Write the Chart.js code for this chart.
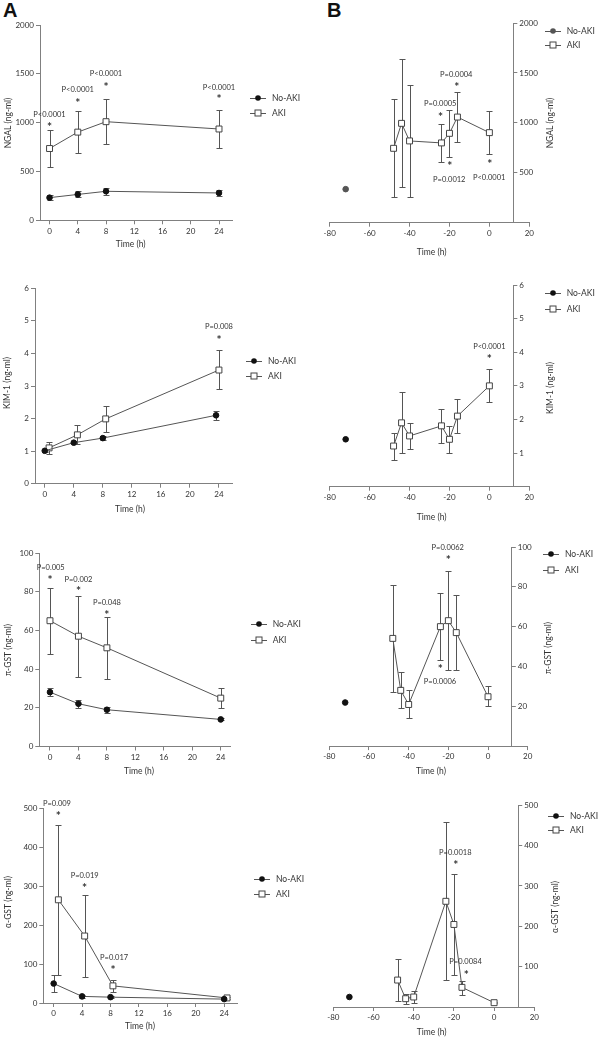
<!DOCTYPE html>
<html>
<head>
<meta charset="utf-8">
<script src="https://cdn.jsdelivr.net/npm/chart.js@4.4.1/dist/chart.umd.min.js"></script>
<style>
  body { margin: 0; background: #fff; width: 600px; height: 1039px; position: relative; overflow: hidden; }
  canvas { position: absolute; }
  .tag { position: absolute; font: bold 20px 'Liberation Sans', Arial, sans-serif; line-height: 20px; color: #111; }
  .leg { position: absolute; height: 12px; display: flex; align-items: center; font: 8.5px Lato, sans-serif; color: #333; white-space: nowrap; }
  .leg span { margin-left: 4px; }
</style>
</head>
<body>
<div class="tag" style="left:3px;top:0px">A</div>
<div class="tag" style="left:327px;top:0px">B</div>
<script>
// time points
const hoursA = [0, 4, 8, 24];
const hoursB = [-48, -44, -40, -24, -20, -16, 0];
const baseB = [-72];
const ticksA = [0, 4, 8, 12, 16, 20, 24];
const ticksB = [-80, -60, -40, -20, 0, 20];

// NGAL (A)
const ngalA_no = [232, 265, 297, 280];
const ngalA_noLo = [207, 235, 259, 245];
const ngalA_noHi = [257, 295, 335, 315];
const ngalA_aki = [735, 903, 1010, 935];
const ngalA_akiLo = [545, 686, 785, 740];
const ngalA_akiHi = [926, 1121, 1244, 1132];
const ngalA_notes = [
  { x: 0, y: 985, t: '*' }, { x: 0, y: 1087, t: 'P<0.0001' },
  { x: 4, y: 1234, t: '*' }, { x: 4, y: 1340, t: 'P<0.0001' },
  { x: 8, y: 1398, t: '*' }, { x: 8, y: 1508, t: 'P<0.0001' },
  { x: 24, y: 1268, t: '*' }, { x: 24, y: 1368, t: 'P<0.0001' }
];

// KIM-1 (A)
const kimA_noX = [0, 4, 8, 23.6];
const kimA_no = [1.01, 1.26, 1.40, 2.10];
const kimA_noLo = [0.96, 1.21, 1.34, 1.96];
const kimA_noHi = [1.06, 1.31, 1.46, 2.24];
const kimA_akiX = [0.6, 4.5, 8.4, 24];
const kimA_aki = [1.10, 1.50, 1.99, 3.49];
const kimA_akiLo = [0.91, 1.21, 1.60, 2.90];
const kimA_akiHi = [1.29, 1.79, 2.40, 4.10];
const kimA_notes = [{ x: 24, y: 4.5, t: '*' }, { x: 24, y: 4.84, t: 'P=0.008' }];

// pi-GST (A)
const piA_no = [28.1, 22.1, 19.0, 14.0];
const piA_noLo = [25.9, 20.1, 17.5, 13.5];
const piA_noHi = [30.3, 24.1, 20.5, 14.5];
const piA_aki = [65, 57, 51, 25];
const piA_akiLo = [48, 36, 35, 20];
const piA_akiHi = [82, 78, 67, 30];
const piA_notes = [
  { x: 0, y: 87.8, t: '*' }, { x: 0.1, y: 93, t: 'P=0.005' },
  { x: 4, y: 81.8, t: '*' }, { x: 4, y: 86.8, t: 'P=0.002' },
  { x: 8, y: 69.7, t: '*' }, { x: 8, y: 74.5, t: 'P=0.048' }
];

// alpha-GST (A)
const alA_no = [50, 17, 15, 10];
const alA_noLo = [27, 14, 12, 8];
const alA_noHi = [73, 20, 18, 12];
const alA_akiX = [0.66, 4.36, 8.34, 24.4];
const alA_aki = [265, 172, 44, 13];
const alA_akiLo = [72, 67, 28, 10];
const alA_akiHi = [458, 277, 60, 16];
const alA_notes = [
  { x: 0.66, y: 487, t: '*' }, { x: 0.46, y: 514, t: 'P=0.009' },
  { x: 4.36, y: 302, t: '*' }, { x: 4.36, y: 329, t: 'P=0.019' },
  { x: 8.34, y: 93, t: '*' }, { x: 8.5, y: 119, t: 'P=0.017' }
];

// NGAL (B)
const ngalB_no = [336];
const ngalB_aki = [745, 995, 819, 799, 895, 1058, 902];
const ngalB_akiLo = [255, 353, 259, 609, 662, 810, 684];
const ngalB_akiHi = [1235, 1637, 1379, 989, 1128, 1306, 1120];
const ngalB_notes = [
  { x: -24.6, y: 1195, t: 'P=0.0005' }, { x: -24.5, y: 1088, t: '*' },
  { x: -16.6, y: 1485, t: 'P=0.0004' }, { x: -16.3, y: 1385, t: '*' },
  { x: -19.8, y: 597, t: '*' }, { x: -20.1, y: 440, t: 'P=0.0012' },
  { x: 0.2, y: 613, t: '*' }, { x: -0.1, y: 460, t: 'P<0.0001' }
];

// KIM-1 (B)
const kimB_no = [1.41];
const kimB_aki = [1.21, 1.90, 1.51, 1.81, 1.41, 2.10, 3.0];
const kimB_akiLo = [0.80, 1.00, 1.11, 1.31, 1.00, 1.61, 2.52];
const kimB_akiHi = [1.61, 2.82, 1.90, 2.30, 1.81, 2.60, 3.50];
const kimB_notes = [{ x: 0, y: 3.9, t: '*' }, { x: 0, y: 4.2, t: 'P<0.0001' }];

// pi-GST (B)
const piB_no = [21.9];
const piB_aki = [54.1, 28, 20.9, 60, 63, 57, 24.8];
const piB_akiLo = [27, 19, 14, 43, 38, 38, 20];
const piB_akiHi = [81, 37, 28, 77, 88, 76, 30];
const piB_notes = [
  { x: -20.3, y: 99.8, t: 'P=0.0062' }, { x: -20, y: 95, t: '*' },
  { x: -24, y: 40.4, t: '*' }, { x: -24.2, y: 32.7, t: 'P=0.0006' }
];

// alpha-GST (B)
const alB_no = [24.8];
const alB_aki = [66.8, 20.6, 24.8, 262, 204.6, 48.7, 10.7];
const alB_akiLo = [14, 6.6, 10, 66, 79, 30.5, 9];
const alB_akiHi = [119, 33, 39.6, 459, 330, 65, 12];
const alB_notes = [
  { x: -19.3, y: 385, t: 'P=0.0018' }, { x: -19.1, y: 360, t: '*' },
  { x: -14.2, y: 113, t: 'P=0.0084' }, { x: -13.8, y: 88, t: '*' }
];

const INK = '#333';
const AXIS = '#808080';
const FONT = 'Lato, "Open Sans", sans-serif';

function series(label, xs, ys, lo, hi, aki, dot) {
  return {
    label: label,
    data: xs.map((x, i) => ({ x: x, y: ys[i] })),
    lo: lo, hi: hi,
    showLine: true,
    borderColor: '#555',
    borderWidth: 1,
    pointStyle: aki ? 'rect' : 'circle',
    pointRadius: aki ? 4.2 : 2.8,
    pointBackgroundColor: aki ? '#fff' : dot,
    pointBorderColor: aki ? '#444' : dot,
    pointBorderWidth: 1
  };
}

function panelPlugin(p) {
  return {
    id: 'panel',
    afterLayout(chart) {
      if (p.side !== 'right') return;
      // put the right-hand y axis at x = p.yAt instead of the chart edge
      const y = chart.scales.y;
      const px = chart.scales.x.getPixelForValue(p.yAt);
      const w = y.right - y.left;
      y.left = px;
      y.right = px + w;
    },
    beforeDatasetsDraw(chart) {
      const { ctx, scales: { x, y } } = chart;
      ctx.save();
      ctx.strokeStyle = '#555';
      ctx.lineWidth = 1;
      chart.data.datasets.forEach(ds => {
        if (!ds.lo) return;
        ds.data.forEach((pt, i) => {
          const px = Math.round(x.getPixelForValue(pt.x)) + 0.5;
          const top = Math.round(y.getPixelForValue(ds.hi[i])) + 0.5;
          const bot = Math.round(y.getPixelForValue(ds.lo[i])) + 0.5;
          ctx.beginPath();
          ctx.moveTo(px, top); ctx.lineTo(px, bot);
          ctx.moveTo(px - 3, top); ctx.lineTo(px + 3, top);
          ctx.moveTo(px - 3, bot); ctx.lineTo(px + 3, bot);
          ctx.stroke();
        });
      });
      ctx.restore();
    },
    afterDraw(chart) {
      const { ctx, scales: { x, y } } = chart;
      ctx.save();
      ctx.fillStyle = INK;
      ctx.textAlign = 'center';
      ctx.textBaseline = 'alphabetic';
      p.notes.forEach(n => {
        ctx.font = n.t === '*' ? 'bold 12px ' + FONT : '7.5px ' + FONT;
        const m = ctx.measureText(n.t);
        const px = x.getPixelForValue(n.x);
        const py = y.getPixelForValue(n.y);
        ctx.fillText(n.t, px, py + (m.actualBoundingBoxAscent - m.actualBoundingBoxDescent) / 2);
      });
      ctx.font = '8.5px ' + FONT;
      ctx.textBaseline = 'middle';
      ctx.fillText('Time (h)', p.xt[0], p.xt[1]);
      ctx.translate(p.yt[0], p.yt[1]);
      ctx.rotate(-Math.PI / 2);
      ctx.fillText(p.yTitle, 0, 0);
      ctx.restore();
    }
  };
}

function makePanel(p) {
  const cv = document.createElement('canvas');
  cv.width = p.w; cv.height = p.h;
  cv.style.left = p.left + 'px';
  cv.style.top = p.top + 'px';
  document.body.appendChild(cv);

  const right = p.side === 'right';
  const yW = right ? 40 : p.area.l;
  const pad = right
    ? { left: p.area.l, right: p.w - p.area.r - yW, top: p.area.t, bottom: 0 }
    : { left: 0, right: p.w - p.area.r, top: p.area.t, bottom: 0 };
  const xH = p.h - p.area.b;

  new Chart(cv, {
    type: 'scatter',
    data: { datasets: p.datasets },
    options: {
      responsive: false,
      animation: false,
      devicePixelRatio: 1,
      layout: { padding: pad },
      plugins: { legend: { display: false }, tooltip: { enabled: false } },
      scales: {
        x: {
          type: 'linear',
          min: p.xRange[0], max: p.xRange[1],
          afterBuildTicks: s => { s.ticks = p.xTicks.map(v => ({ value: v })); },
          afterFit: s => { s.height = xH; },
          grid: { drawOnChartArea: false, drawTicks: true, tickLength: 4, color: AXIS },
          border: { display: true, color: AXIS, width: 1 },
          ticks: { color: INK, padding: 2, maxRotation: 0, font: { family: FONT, size: 8 }, callback: v => String(v) }
        },
        y: {
          type: 'linear',
          position: right ? 'right' : 'left',
          min: p.yRange[0], max: p.yRange[1],
          afterBuildTicks: s => { s.ticks = p.yTicks.map(v => ({ value: v })); },
          afterFit: s => { s.width = yW; },
          grid: { drawOnChartArea: false, drawTicks: true, tickLength: 4, color: AXIS },
          border: { display: true, color: AXIS, width: 1 },
          ticks: { color: INK, padding: 2, font: { family: FONT, size: 8 }, callback: v => String(v) }
        }
      }
    },
    plugins: [panelPlugin(p)]
  });
}

function legend(x, y1, y2, dot) {
  const rows = [
    { t: 'No-AKI', y: y1, m: '<circle cx="10" cy="5" r="2.8" fill="' + dot + '"/>' },
    { t: 'AKI', y: y2, m: '<rect x="7" y="2" width="6" height="6" fill="#fff" stroke="#444" stroke-width="1"/>' }
  ];
  rows.forEach(r => {
    const d = document.createElement('div');
    d.className = 'leg';
    d.style.left = (x - 24) + 'px';
    d.style.top = (r.y - 6) + 'px';
    d.innerHTML = '<svg width="20" height="10"><line x1="2" y1="5.5" x2="18" y2="5.5" stroke="#555" stroke-width="1"/>' +
      r.m + '</svg><span>' + r.t + '</span>';
    document.body.appendChild(d);
  });
}

const pA = { left: 0, w: 245, side: 'left', xTicks: ticksA };
const pB = { left: 300, w: 300, side: 'right', xTicks: ticksB, xRange: [-80, 20], yAt: 12 };

makePanel(Object.assign({}, pA, {
  top: 0, h: 270, area: { l: 40, r: 232, t: 25, b: 220.3 },
  xRange: [-1.35, 25.84], yRange: [0, 2000], yTicks: [0, 500, 1000, 1500, 2000],
  xt: [130.7, 244], yt: [8, 123], yTitle: 'NGAL (ng-ml)', notes: ngalA_notes,
  datasets: [
    series('No-AKI', hoursA, ngalA_no, ngalA_noLo, ngalA_noHi, false, '#111'),
    series('AKI', hoursA, ngalA_aki, ngalA_akiLo, ngalA_akiHi, true)
  ]
}));
makePanel(Object.assign({}, pA, {
  top: 255, h: 270, area: { l: 35, r: 232, t: 33.3, b: 228.7 },
  xRange: [-1.34, 25.8], yRange: [0, 6], yTicks: [0, 1, 2, 3, 4, 5, 6],
  xt: [130, 254], yt: [7, 128], yTitle: 'KIM-1 (ng-ml)', notes: kimA_notes,
  datasets: [
    series('No-AKI', kimA_noX, kimA_no, kimA_noLo, kimA_noHi, false, '#111'),
    series('AKI', kimA_akiX, kimA_aki, kimA_akiLo, kimA_akiHi, true)
  ]
}));
makePanel(Object.assign({}, pA, {
  top: 515, h: 265, area: { l: 39.3, r: 230, t: 38, b: 231.5 },
  xRange: [-1.5, 25.3], yRange: [0, 100], yTicks: [0, 20, 40, 60, 80, 100],
  xt: [139, 256], yt: [8, 135], yTitle: 'π-GST (ng-ml)', notes: piA_notes,
  datasets: [
    series('No-AKI', hoursA, piA_no, piA_noLo, piA_noHi, false, '#111'),
    series('AKI', hoursA, piA_aki, piA_akiLo, piA_akiHi, true)
  ]
}));
makePanel(Object.assign({}, pA, {
  top: 779, h: 260, area: { l: 43.3, r: 237.7, t: 29.3, b: 224 },
  xRange: [-1.46, 25.9], yRange: [0, 500], yTicks: [0, 100, 200, 300, 400, 500],
  xt: [140, 247], yt: [8, 123], yTitle: 'α-GST (ng-ml)', notes: alA_notes,
  datasets: [
    series('No-AKI', hoursA, alA_no, alA_noLo, alA_noHi, false, '#111'),
    series('AKI', alA_akiX, alA_aki, alA_akiLo, alA_akiHi, true)
  ]
}));

makePanel(Object.assign({}, pB, {
  top: 0, h: 270, area: { l: 29.7, r: 229.3, t: 23, b: 222.7 },
  yRange: [0, 2000], yTicks: [500, 1000, 1500, 2000],
  xt: [131.7, 252], yt: [250.7, 123], yTitle: 'NGAL (ng-ml)', notes: ngalB_notes,
  datasets: [
    series('No-AKI', baseB, ngalB_no, null, null, false, '#555'),
    series('AKI', hoursB, ngalB_aki, ngalB_akiLo, ngalB_akiHi, true)
  ]
}));
makePanel(Object.assign({}, pB, {
  top: 255, h: 270, area: { l: 29.7, r: 229.3, t: 30, b: 231.7 },
  yRange: [0, 6], yTicks: [1, 2, 3, 4, 5, 6],
  xt: [131.7, 262], yt: [250.7, 133], yTitle: 'KIM-1 (ng-ml)', notes: kimB_notes,
  datasets: [
    series('No-AKI', baseB, kimB_no, null, null, false, '#111'),
    series('AKI', hoursB, kimB_aki, kimB_akiLo, kimB_akiHi, true)
  ]
}));
makePanel(Object.assign({}, pB, {
  top: 515, h: 265, area: { l: 29.3, r: 227.7, t: 32, b: 231.1 },
  yRange: [0, 100], yTicks: [20, 40, 60, 80, 100],
  xt: [131, 256], yt: [248, 133], yTitle: 'π-GST (ng-ml)', notes: piB_notes,
  datasets: [
    series('No-AKI', baseB, piB_no, null, null, false, '#111'),
    series('AKI', hoursB, piB_aki, piB_akiLo, piB_akiHi, true)
  ]
}));
makePanel(Object.assign({}, pB, {
  top: 779, h: 260, area: { l: 33.3, r: 234.3, t: 26.3, b: 228 },
  yRange: [0, 500], yTicks: [100, 200, 300, 400, 500],
  xt: [131.7, 253], yt: [255, 128], yTitle: 'α-GST (ng-ml)', notes: alB_notes,
  datasets: [
    series('No-AKI', baseB, alB_no, null, null, false, '#111'),
    series('AKI', hoursB, alB_aki, alB_akiLo, alB_akiHi, true)
  ]
}));

legend(272, 98, 113, '#111');
legend(268, 361, 376, '#111');
legend(272.7, 624, 640, '#111');
legend(276, 879, 894, '#111');
legend(566.7, 31, 45, '#555');
legend(566.7, 293, 309, '#111');
legend(565, 554, 570, '#111');
legend(570, 816, 830, '#111');
</script>
</body>
</html>
